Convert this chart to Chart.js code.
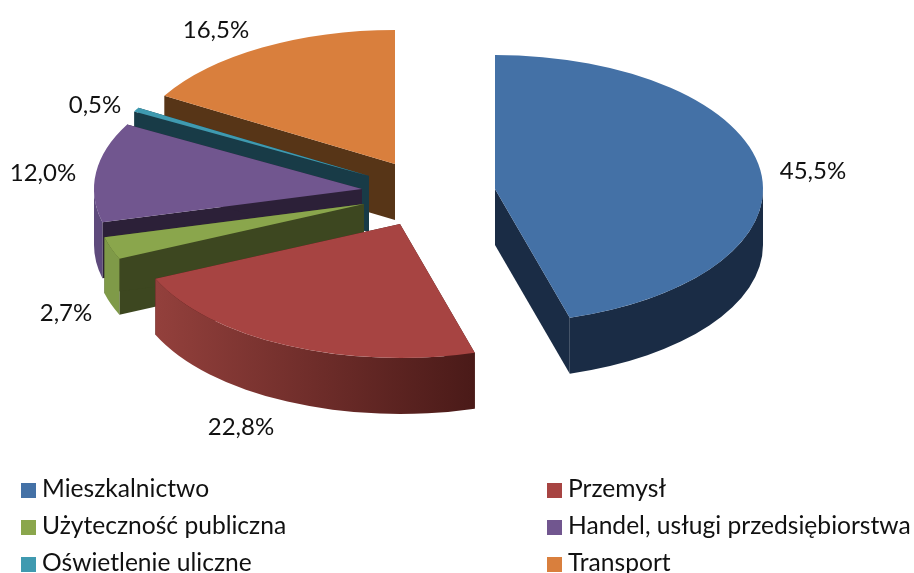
<!DOCTYPE html>
<html><head><meta charset="utf-8">
<style>html,body{margin:0;padding:0;background:#fff;overflow:hidden}#w{width:914px;height:573px;position:relative}</style>
<script src="https://cdn.jsdelivr.net/npm/chart.js@4"></script>
</head><body><div id="w"><canvas id="c" width="914" height="573"></canvas></div>
<script>
const categories = ["Mieszkalnictwo","Przemysł","Użyteczność publiczna","Handel, usługi przedsiębiorstwa","Oświetlenie uliczne","Transport"];
const values = [45.5,22.8,2.7,12.0,0.5,16.5];
const valueLabels = ["45,5%","22,8%","2,7%","12,0%","0,5%","16,5%"];
const topColors = ["#4471a6","#a74442","#8aa64c","#71568f","#3f9ab0","#d97f3d"];
const cutColors = ["#1a2c45","#4a1a18","#3d4720","#2c2038","#183b47","#573517"];
const bandColors = [["#1a2c45","#1a2c45"],["#93403c","#4a1a18"],["#7f9a48","#7f9a48"],["#5e4a7c","#5e4a7c"],["#183b47","#183b47"],["#573517","#573517"]];
// per-slice apex position on the page (exploded slices)
const apexX = [495,400,364,362,369,395];
const apexY = [189,224,204,189,176,164];
const labelX = [813,241,66,43,95,216];
const labelY = [171,427,313,173,105,30];
const legendX = [21,547,21,547,21,547];
const legendBaseline = [497,497,534,534,571,571];
const RX = 268, SQUASH = 0.5, DEPTH = 56;
const LABEL_FONT = '24px Lato, Carlito, sans-serif';
const LEGEND_FONT = '24.6px Lato, Carlito, sans-serif';

const pie3d = {
  id:'pie3d',
  beforeDatasetDraw(chart){
    const ctx = chart.ctx, arcs = chart.getDatasetMeta(0).data;
    const order = [5,4,3,2,1,0];
    order.forEach(i=>{
      const a = arcs[i], ax = apexX[i], ay = apexY[i], R = a.outerRadius;
      const px = t=>ax+Math.cos(t)*R, py = t=>ay+Math.sin(t)*R*SQUASH;
      ctx.save();
      ctx.fillStyle = cutColors[i];
      [a.startAngle,a.endAngle].forEach(t=>{
        ctx.beginPath();
        ctx.moveTo(ax,ay);ctx.lineTo(px(t),py(t));ctx.lineTo(px(t),py(t)+DEPTH);ctx.lineTo(ax,ay+DEPTH);ctx.closePath();ctx.fill();
      });
      // visible curved wall: only the front half of the ellipse
      const s = Math.max(a.startAngle,0), e = Math.min(a.endAngle,Math.PI);
      if(e>s){
        const g = ctx.createLinearGradient(Math.min(px(s),px(e)),0,Math.max(px(s),px(e)),0);
        g.addColorStop(0,bandColors[i][0]);
        g.addColorStop(1,bandColors[i][1]);
        ctx.fillStyle = g;
        ctx.beginPath();
        ctx.ellipse(ax,ay,R,R*SQUASH,0,s,e,false);
        ctx.ellipse(ax,ay+DEPTH,R,R*SQUASH,0,e,s,true);
        ctx.closePath();ctx.fill();
      }
      ctx.restore();
      // the slice top, drawn by the library's own arc element
      ctx.save();
      ctx.translate(ax,ay);ctx.scale(1,SQUASH);ctx.translate(-a.x,-a.y);
      a.draw(ctx);
      ctx.restore();
    });
    return false;
  },
  afterDraw(chart){
    const ctx = chart.ctx;
    ctx.save();
    ctx.font = LABEL_FONT;ctx.fillStyle = '#111';
    ctx.textAlign='center';ctx.textBaseline='middle';
    valueLabels.forEach((t,i)=>ctx.fillText(t,labelX[i],labelY[i]));
    ctx.font = LEGEND_FONT;
    ctx.textAlign='left';ctx.textBaseline='alphabetic';
    categories.forEach((t,i)=>{
      ctx.fillStyle = topColors[i];
      ctx.fillRect(legendX[i],legendBaseline[i]-14,15,15);
      ctx.fillStyle = '#111';
      ctx.fillText(t,legendX[i]+21,legendBaseline[i]);
    });
    ctx.restore();
  }
};
new Chart(document.getElementById('c'),{
  type:'pie',
  data:{labels:categories,datasets:[{data:values,backgroundColor:topColors,borderWidth:0,radius:RX}]},
  options:{responsive:false,animation:false,rotation:0,
    plugins:{legend:{display:false},tooltip:{enabled:false}}},
  plugins:[pie3d]
});
</script></body></html>
